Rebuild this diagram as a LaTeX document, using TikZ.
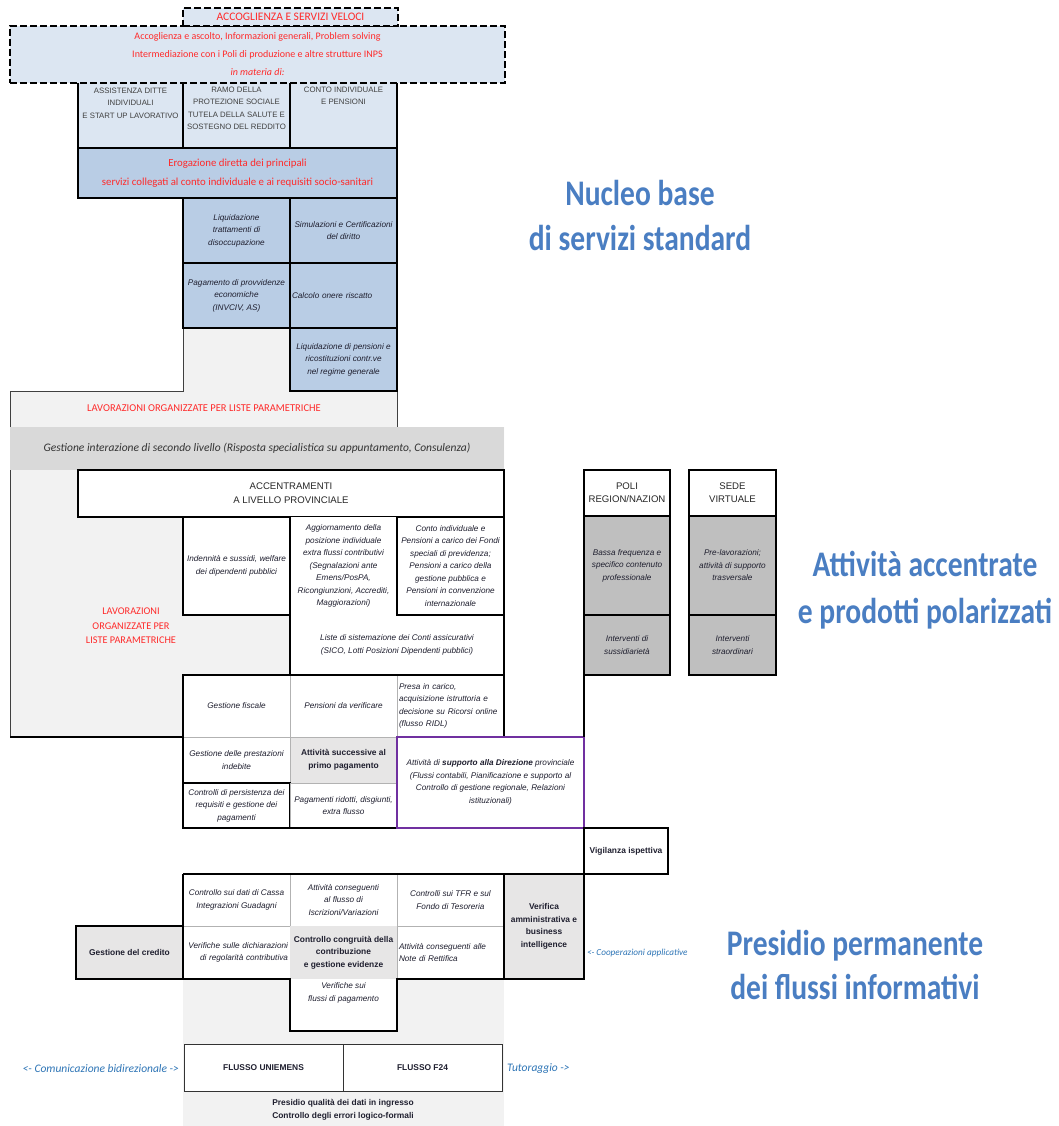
\documentclass[tikz,border=0pt]{standalone}
\usepackage{fontspec}
\usepackage{graphicx}
\setmainfont{Carlito}
\newfontfamily\lsans{Liberation Sans}
\definecolor{lblue}{HTML}{DCE6F2}
\definecolor{mblue}{HTML}{B9CDE5}
\definecolor{lgrey}{HTML}{F2F2F2}
\definecolor{bandc}{HTML}{D9D9D9}
\definecolor{cgrey}{HTML}{E7E6E6}
\definecolor{pgrey}{HTML}{BFBFBF}
\definecolor{red1}{HTML}{FF2A2A}
\definecolor{purp}{HTML}{7030A0}
\definecolor{tblue}{HTML}{4A7EC2}
\definecolor{lnkblue}{HTML}{2E75B6}
\definecolor{txt}{HTML}{1F1F2F}
\newcommand\cellf{\lsans\fontsize{8.2}{12.5}\selectfont\itshape}
\newcommand\boldf{\lsans\fontsize{8.4}{12.5}\selectfont\bfseries}
\newcommand\capsf{\lsans\fontsize{7.8}{12.5}\selectfont}
\newcommand\tsq[1]{\scalebox{0.82}[1]{#1}}
\newcommand\cellat[7]{\node[#6, minimum width={(#4)-(#2)}, minimum height={(#5)-(#3)}] (#1) at ({((#2)+(#4))/2},{((#3)+(#5))/2}) {#7};}
\tikzset{
  bord/.style={draw=black, line width=1.6pt},
  thinl/.style={draw=gray!60, line width=0.6pt},
  lbl/.style={rectangle, inner sep=0pt, outer sep=0pt, align=center, text=txt, font=\cellf},
  cell/.style={lbl, inner sep=1pt, thinl},
  bcell/.style={cell, bord},
  dbox/.style={rectangle, inner sep=0pt, outer sep=0pt, align=center, draw=black, line width=1.6pt, dash pattern=on 7pt off 3pt},
}
\begin{document}
\begin{tikzpicture}[x=1pt,y=-1pt]
\fill[white] (0,0) rectangle (1059,1126);
\useasboundingbox (0,0) rectangle (1059,1126);

% ---------- LAVORAZIONI region ----------
\fill[lgrey] (10,391) -- (183,391) -- (183,328) -- (290,328) -- (290,391) -- (397,391) -- (397,427) -- (504,427) -- (504,470) -- (78,470) -- (78,517) -- (183,517) -- (183,615) -- (290,615) -- (290,675) -- (183,675) -- (183,737) -- (10,737) -- cycle;
\draw[line width=0.8pt, black!75] (183,328) -- (183,391) -- (10,391) -- (10,737);
\draw[bord] (10,737) -- (183,737);
\draw[line width=0.8pt, black!75] (397,391) -- (397,427);

% ---------- top section ----------
\cellat{asst}{78}{83}{183}{148}{lbl, fill=lblue}{}
\cellat{ramo}{183}{83}{290}{148}{lbl, fill=lblue}{}
\cellat{cind}{290}{83}{397}{148}{lbl, fill=lblue}{}
\draw[bord] (asst.north west) -- (asst.south west) -- (cind.south east) -- (cind.north east);
\draw[bord] (ramo.north west) -- (ramo.south west);
\draw[bord] (cind.north west) -- (cind.south west);
\node[lbl, anchor=north, font=\capsf, text=black!75] (asstT) at ([yshift=-5pt]asst.north) {ASSISTENZA DITTE\\INDIVIDUALI\\E START UP LAVORATIVO};
\node[lbl, anchor=north, font=\capsf, text=black!75] (ramoT) at ([yshift=-4pt]ramo.north) {RAMO DELLA\\PROTEZIONE SOCIALE\\TUTELA DELLA SALUTE E\\SOSTEGNO DEL REDDITO};
\node[lbl, anchor=north, font=\capsf, text=black!75] (cindT) at ([yshift=-4pt]cind.north) {CONTO INDIVIDUALE\\E PENSIONI};

\cellat{front}{10}{26}{505}{83}{dbox, fill=lblue, text=red1, font=\fontsize{10}{18}\selectfont}{Accoglienza e ascolto, Informazioni generali, Problem solving\\Intermediazione con i Poli di produzione e altre strutture INPS\\\textit{in materia di:}}
\cellat{accog}{183}{8}{398}{26}{dbox, fill=lblue, text=red1, font=\fontsize{11.5}{12}\selectfont}{ACCOGLIENZA E SERVIZI VELOCI}

\cellat{erog}{78}{148}{397}{198}{bcell, fill=mblue, text=red1, font=\fontsize{10.8}{19}\selectfont}{Erogazione diretta dei principali\\servizi collegati al conto individuale e ai requisiti socio-sanitari}
\cellat{liqd}{183}{198}{290}{263}{bcell, fill=mblue}{Liquidazione\\trattamenti di\\disoccupazione}
\cellat{simul}{290}{198}{397}{263}{bcell, fill=mblue}{Simulazioni e Certificazioni\\del diritto}
\cellat{pagam}{183}{263}{290}{328}{bcell, fill=mblue}{Pagamento di provvidenze\\economiche\\(INVCIV, AS)}
\cellat{calc}{290}{263}{397}{328}{bcell, fill=mblue, text width=103pt, align=left}{Calcolo onere riscatto}
\cellat{liqp}{290}{328}{397}{391}{bcell, fill=mblue}{Liquidazione di pensioni e\\ricostituzioni contr.ve\\nel regime generale}

\node[lbl, text=red1, font=\fontsize{10.5}{12}\selectfont] (lav1) at (204,408) {LAVORAZIONI ORGANIZZATE PER LISTE PARAMETRICHE};
\cellat{band}{10}{427}{504}{470}{lbl, fill=bandc, text=black!80, font=\fontsize{11.5}{13}\selectfont\itshape}{Gestione interazione di secondo livello (Risposta specialistica su appuntamento, Consulenza)}

% ---------- accentramenti ----------
\cellat{accent}{78}{470}{504}{517}{bcell, fill=white, text=black!85, font=\lsans\fontsize{9.6}{14}\selectfont}{ACCENTRAMENTI\\A LIVELLO PROVINCIALE}
\cellat{indenn}{183}{517}{290}{615}{bcell, fill=white}{Indennità e sussidi, welfare\\dei dipendenti pubblici}
\cellat{aggi}{290}{517}{397}{615}{lbl, fill=white}{Aggiornamento della\\posizione individuale\\extra flussi contributivi\\(Segnalazioni ante\\Emens/PosPA,\\Ricongiunzioni, Accrediti,\\Maggiorazioni)}
\cellat{liste}{290}{615}{504}{675}{lbl, fill=white}{Liste di sistemazione dei Conti assicurativi\\(SICO, Lotti Posizioni Dipendenti pubblici)}
\cellat{contoind}{397}{517}{504}{615}{bcell, fill=white}{Conto individuale e\\Pensioni a carico dei Fondi\\speciali di previdenza;\\Pensioni a carico della\\gestione pubblica e\\Pensioni in convenzione\\internazionale}
\draw[bord] (aggi.north west) -- (liste.south west) -- (liste.south east) -- (contoind.south east);
\node[lbl, text=red1, font=\fontsize{10.3}{14.5}\selectfont] (lav2) at (131,626) {LAVORAZIONI\\ORGANIZZATE PER\\LISTE PARAMETRICHE};

\cellat{gfisc}{183}{675}{290}{737}{cell, fill=white}{Gestione fiscale}
\cellat{pverif}{290}{675}{397}{737}{cell, fill=white}{Pensioni da verificare}
\cellat{presa}{397}{675}{504}{737}{cell, fill=white, text width=103pt, align=left}{Presa in carico,\\acquisizione istruttoria e\\decisione su Ricorsi online\\(flusso RIDL)}
\draw[bord] (gfisc.south west) -- (gfisc.north west) -- (presa.north east) -- (presa.south east);

% ---------- poli / sede ----------
\cellat{poliH}{584}{470}{670}{516}{bcell, fill=white, text=black!85, font=\lsans\fontsize{9.6}{13}\selectfont}{POLI\\REGION/NAZION}
\cellat{poliA}{584}{516}{670}{615}{bcell, fill=pgrey}{Bassa frequenza e\\specifico contenuto\\professionale}
\cellat{poliB}{584}{615}{670}{675}{bcell, fill=pgrey}{Interventi di\\sussidiarietà}
\cellat{sedeH}{689}{470}{776}{516}{bcell, fill=white, text=black!85, font=\lsans\fontsize{9.6}{13}\selectfont}{SEDE\\VIRTUALE}
\cellat{sedeA}{689}{516}{776}{615}{bcell, fill=pgrey}{Pre-lavorazioni;\\attività di supporto\\trasversale}
\cellat{sedeB}{689}{615}{776}{675}{bcell, fill=pgrey}{Interventi\\straordinari}

% ---------- rows below ----------
\cellat{gprest}{183}{737}{290}{783}{cell, fill=white}{Gestione delle prestazioni\\indebite}
\cellat{attsucc}{290}{737}{397}{783}{cell, fill=cgrey, font=\boldf}{Attività successive al\\primo pagamento}
\cellat{cpers}{183}{783}{290}{828}{bcell, fill=white}{Controlli di persistenza dei\\requisiti e gestione dei\\pagamenti}
\cellat{pagrid}{290}{783}{397}{828}{cell, fill=white}{Pagamenti ridotti, disgiunti,\\extra flusso}
\draw[bord] (gprest.north west) -- (cpers.south west) -- (pagrid.south east);
\cellat{dir}{397}{737}{584}{828}{cell, draw=purp, line width=1.8pt, fill=white}{Attività di \textbf{supporto alla Direzione} provinciale\\(Flussi contabili, Pianificazione e supporto al\\Controllo di gestione regionale, Relazioni\\istituzionali)}
\draw[bord] (poliB.south west) -- (dir.north east);
\cellat{vig}{584}{828}{668}{874}{bcell, fill=white, font=\boldf}{Vigilanza ispettiva}

\fill[lgrey] (183,979) rectangle (504,1126);
\cellat{cassa}{183}{874}{290}{926}{cell, fill=white}{Controllo sui dati di Cassa\\Integrazioni Guadagni}
\cellat{iscr}{290}{874}{397}{926}{cell, fill=white}{Attività conseguenti\\al flusso di\\Iscrizioni/Variazioni}
\cellat{tfr}{397}{874}{504}{926}{cell, fill=white}{Controlli sui TFR e sul\\Fondo di Tesoreria}
\cellat{vdich}{183}{926}{290}{979}{cell, fill=white, text width=103pt, align=right}{Verifiche sulle dichiarazioni\\di regolarità contributiva}
\cellat{congr}{290}{926}{397}{979}{lbl, fill=cgrey, font=\boldf}{Controllo congruità della\\contribuzione\\e gestione evidenze}
\cellat{note}{397}{926}{504}{979}{cell, fill=white, text width=103pt, align=left}{Attività conseguenti alle\\Note di Rettifica}
\cellat{vfl}{290}{979}{397}{1031}{lbl, fill=white}{}
\node[lbl, anchor=north] (vflT) at ([yshift=-4pt]vfl.north) {Verifiche sui\\flussi di pagamento};
\draw[bord] (cassa.north west) -- (tfr.north east);
\draw[bord] (cassa.north west) -- (vdich.south west) -- (vdich.south east) -- (vfl.south west) -- (vfl.south east) -- (vfl.north east) -- (note.south east);
\cellat{verif}{504}{874}{584}{979}{bcell, fill=cgrey, font=\boldf}{Verifica\\amministrativa e\\business\\intelligence}
\cellat{gcred}{76}{926}{183}{979}{bcell, fill=cgrey, font=\boldf}{Gestione del credito}

\cellat{funi}{184}{1044}{343}{1091}{lbl, draw=black!80, line width=1pt, fill=white, font=\boldf}{FLUSSO UNIEMENS}
\cellat{f24}{343}{1044}{502}{1091}{lbl, draw=black!80, line width=1pt, fill=white, font=\boldf}{FLUSSO F24}
\node[lbl, font=\lsans\fontsize{8.4}{13}\selectfont\bfseries] (pres) at (343,1110) {Presidio qualità dei dati in ingresso\\Controllo degli errori logico-formali};

\node[lbl, anchor=east, text=lnkblue, font=\fontsize{11.5}{13}\selectfont\itshape] (comm) at (179,1069) {<- Comunicazione bidirezionale ->};
\node[lbl, anchor=west, text=lnkblue, font=\fontsize{11.5}{13}\selectfont\itshape] (tutor) at (507,1069) {Tutoraggio ->};
\node[lbl, anchor=west, text=lnkblue, font=\fontsize{9.2}{11}\selectfont\itshape] (coop) at (587,953) {<- Cooperazioni applicative};

% ---------- titles ----------
\node[lbl, text=tblue, font=\fontsize{36}{45}\selectfont\bfseries] (t1) at (640,216) {\tsq{Nucleo base}\\\tsq{di servizi standard}};
\node[lbl, text=tblue, font=\fontsize{36}{47}\selectfont\bfseries] (t2) at (925,590) {\tsq{Attività accentrate}\\\tsq{e prodotti polarizzati}};
\node[lbl, text=tblue, font=\fontsize{36}{44}\selectfont\bfseries] (t3) at (855,965) {\tsq{Presidio permanente}\\\tsq{dei flussi informativi}};
\end{tikzpicture}
\end{document}
